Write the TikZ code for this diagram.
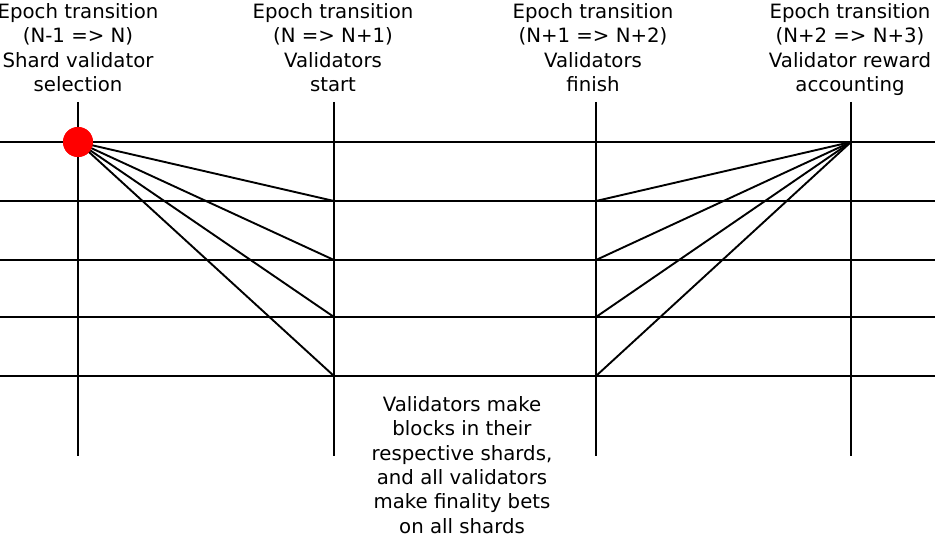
\documentclass[tikz,border=0pt]{standalone}
\usepackage{fontspec}
\setmainfont{DejaVu Sans}
\begin{document}
\begin{tikzpicture}[x=1bp,y=-1bp,
  line/.style={line width=1.9bp,black},
  label/.style={align=center,inner sep=0pt,anchor=north,font=\fontsize{19.8}{24.5}\selectfont},
  reddot/.style={circle,fill=red,minimum size=30bp,inner sep=0pt}]
\useasboundingbox (0,0) rectangle (935,536);
% vertical line ends
\foreach \n/\x in {1/78,2/334,3/596,4/851}{
  \coordinate (vt\n) at (\x,102);
  \coordinate (vb\n) at (\x,456);
}
% horizontal line ends and crossing points
\foreach \n/\y in {1/142,2/201,3/260,4/317,5/376}{
  \coordinate (hl\n) at (0,\y);
  \coordinate (hr\n) at (935,\y);
  \coordinate (a\n) at (334,\y);
  \coordinate (b\n) at (596,\y);
}
\coordinate (R) at (851,142);
\foreach \n in {1,...,4}{\draw[line] (vt\n) -- (vb\n);}
\foreach \n in {1,...,5}{\draw[line] (hl\n) -- (hr\n);}
\node[reddot] (dot) at (78,142) {};
\foreach \n in {2,...,5}{
  \draw[line] (dot.center) -- (a\n);
  \draw[line] (R) -- (b\n);
}
\node[reddot] at (dot) {};
\node[label] (t1) at (78,3) {Epoch transition\\(N-1 => N)\\Shard validator\\selection};
\node[label] (t2) at (333,3) {Epoch transition\\(N => N+1)\\Validators\\start};
\node[label] (t3) at (593,3) {Epoch transition\\(N+1 => N+2)\\Validators\\finish};
\node[label] (t4) at (850,3) {Epoch transition\\(N+2 => N+3)\\Validator reward\\accounting};
\node[label] (bt) at (462,396) {Validators make\\blocks in their\\respective shards,\\and all validators\\make finality bets\\on all shards};
\end{tikzpicture}
\end{document}
